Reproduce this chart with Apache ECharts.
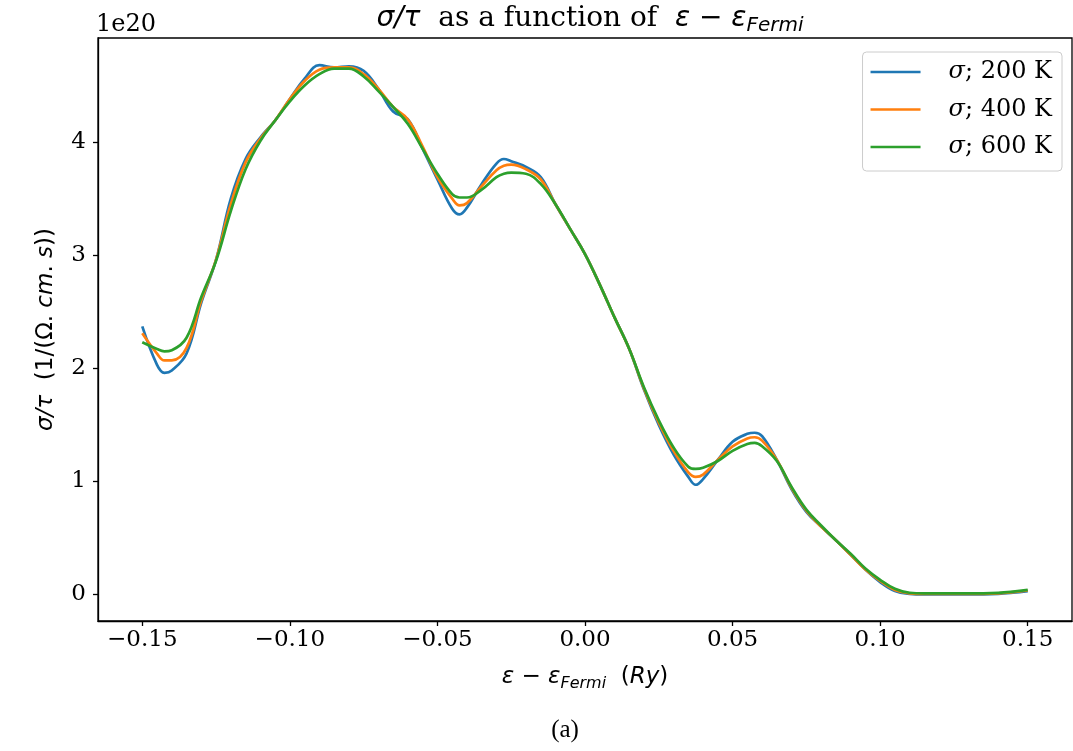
<!DOCTYPE html>
<html><head><meta charset="utf-8">
<script src="https://cdn.jsdelivr.net/npm/echarts@6/dist/echarts.min.js"></script>
<style>html,body{margin:0;padding:0;background:#fff}#c{width:1073px;height:751px}</style>
</head><body><div id="c"></div>
<script>
// energy relative to Fermi level (Ry)
const energy = [
  -0.15, -0.145, -0.1425, -0.14, -0.135, -0.13, -0.125, -0.12, -0.115, -0.11,
  -0.105, -0.10, -0.095, -0.09, -0.085, -0.08, -0.075, -0.07, -0.065, -0.06,
  -0.055, -0.05, -0.045, -0.0425, -0.04, -0.035, -0.03, -0.0275, -0.025, -0.02,
  -0.015, -0.01, -0.005, 0, 0.005, 0.01, 0.015, 0.02, 0.025, 0.03,
  0.035, 0.0375, 0.04, 0.045, 0.05, 0.055, 0.0575, 0.06, 0.065, 0.07,
  0.075, 0.08, 0.085, 0.09, 0.095, 0.10, 0.105, 0.11, 0.115, 0.12,
  0.13, 0.14, 0.145, 0.15
];
// sigma/tau in units of 1e20
const sigma200 = [
  2.37, 2.03, 1.96, 1.98, 2.13, 2.58, 2.96, 3.50, 3.85, 4.04,
  4.19, 4.38, 4.56, 4.68, 4.66, 4.67, 4.63, 4.47, 4.27, 4.20,
  3.94, 3.67, 3.41, 3.36, 3.42, 3.63, 3.81, 3.85, 3.83, 3.78,
  3.69, 3.45, 3.23, 3.01, 2.74, 2.45, 2.17, 1.81, 1.50, 1.24,
  1.04, 0.97, 1.02, 1.19, 1.35, 1.42, 1.43, 1.40, 1.19, 0.93,
  0.73, 0.60, 0.48, 0.35, 0.22, 0.11, 0.03, 0.005, 0, 0,
  0, 0.005, 0.015, 0.03
];
const sigma400 = [
  2.31, 2.13, 2.07, 2.07, 2.18, 2.60, 2.96, 3.45, 3.82, 4.03,
  4.19, 4.38, 4.54, 4.64, 4.66, 4.66, 4.60, 4.47, 4.31, 4.20,
  3.96, 3.69, 3.50, 3.44, 3.46, 3.61, 3.75, 3.79, 3.80, 3.76,
  3.67, 3.45, 3.23, 3.01, 2.74, 2.45, 2.17, 1.82, 1.52, 1.27,
  1.08, 1.04, 1.06, 1.19, 1.31, 1.38, 1.39, 1.36, 1.19, 0.94,
  0.74, 0.60, 0.48, 0.35, 0.22, 0.12, 0.04, 0.01, 0.005, 0.005,
  0.005, 0.01, 0.02, 0.035
];
const sigma600 = [
  2.23, 2.17, 2.15, 2.16, 2.27, 2.63, 2.95, 3.39, 3.76, 4.01,
  4.19, 4.36, 4.50, 4.60, 4.65, 4.65, 4.58, 4.45, 4.31, 4.16,
  3.94, 3.72, 3.54, 3.51, 3.51, 3.58, 3.69, 3.72, 3.73, 3.72,
  3.63, 3.45, 3.23, 3.01, 2.74, 2.45, 2.17, 1.83, 1.54, 1.30,
  1.13, 1.11, 1.12, 1.18, 1.27, 1.33, 1.34, 1.31, 1.18, 0.95,
  0.75, 0.61, 0.48, 0.36, 0.23, 0.13, 0.05, 0.015, 0.01, 0.01,
  0.01, 0.015, 0.025, 0.04
];
const temperatures = [200, 400, 600];
const xTicks = [-0.15, -0.10, -0.05, 0, 0.05, 0.10, 0.15];
const yTicks = [0, 1, 2, 3, 4];
const colors = ['#1f77b4', '#ff7f0e', '#2ca02c'];
const seriesValues = [sigma200, sigma400, sigma600];
const names = temperatures.map(t => 'σ; ' + t + ' K');

const SANS = 'DejaVu Sans';
const SERIF = 'DejaVu Serif';
const fmtX = v => (v < 0 ? '\u2212' : '') + Math.abs(v).toFixed(2);

function mathRich(size, textFont) {
  const lh = size + 6;
  const sub = Math.round(size * 0.7);
  return {
    i: {fontFamily: SANS, fontStyle: 'italic', fontSize: size, color: '#000', lineHeight: lh, verticalAlign: 'middle'},
    n: {fontFamily: SANS, fontSize: size, color: '#000', lineHeight: lh, verticalAlign: 'middle'},
    t: {fontFamily: textFont || SERIF, fontSize: size, color: '#000', lineHeight: lh, verticalAlign: 'middle'},
    s: {fontFamily: SANS, fontStyle: 'italic', fontSize: sub, color: '#000', lineHeight: sub + 2, verticalAlign: 'bottom'}
  };
}

const chart = echarts.init(document.getElementById('c'));
chart.setOption({
  animation: false,
  backgroundColor: '#fff',
  grid: {left: 98, right: 1, top: 38, bottom: 130, show: true, borderColor: '#000', borderWidth: 1.3, containLabel: false},
  xAxis: {
    type: 'value', min: -0.165, max: 0.165,
    axisLine: {show: true, onZero: false, lineStyle: {color: '#000', width: 1.3}},
    axisTick: {show: true, customValues: xTicks, length: 5, lineStyle: {color: '#000', width: 1.3}},
    axisLabel: {customValues: xTicks, formatter: fmtX, fontFamily: SERIF, fontSize: 23, color: '#000', margin: 8},
    splitLine: {show: false},
    name: '{i|ε}{n| − }{i|ε}{s|Fermi}{n|  (}{i|Ry}{n|)}',
    nameLocation: 'middle', nameGap: 42,
    nameTextStyle: {rich: mathRich(23)}
  },
  yAxis: {
    type: 'value', min: -0.2345, max: 4.92,
    axisLine: {show: true, onZero: false, lineStyle: {color: '#000', width: 1.3}},
    axisTick: {show: true, customValues: yTicks, length: 5, lineStyle: {color: '#000', width: 1.3}},
    axisLabel: {customValues: yTicks, formatter: v => String(Math.round(v)), fontFamily: SERIF, fontSize: 23, color: '#000', margin: 12},
    splitLine: {show: false},
    name: '{i|σ/τ}{n|  (1/(Ω. }{i|cm}{n|. }{i|s}{n|))}',
    nameLocation: 'middle', nameGap: 37, nameRotate: 90,
    nameTextStyle: {rich: mathRich(23)}
  },
  legend: {
    orient: 'vertical', right: 11, top: 52,
    data: names,
    icon: 'rect', itemWidth: 50, itemHeight: 2.5, itemGap: 13.5,
    padding: [8, 10, 12, 8],
    borderColor: '#cccccc', borderWidth: 1, borderRadius: 4,
    backgroundColor: 'rgba(255,255,255,0.8)',
    formatter: name => '{i|σ}{n|' + name.slice(1) + '}',
    textStyle: {
      padding: [0, 0, 0, 23],
      rich: {
        i: {fontFamily: SERIF, fontStyle: 'italic', fontSize: 24, color: '#000', lineHeight: 26},
        n: {fontFamily: SERIF, fontSize: 24, color: '#000', lineHeight: 26}
      }
    }
  },
  graphic: [
    {type: 'text', x: 96, y: 25, style: {text: '1e20', fontFamily: SERIF, fontSize: 24, fill: '#000', verticalAlign: 'middle'}},
    {type: 'text', x: 590, y: 19, style: {
      text: '{i|σ/τ}{t|  as a function of  }{i|ε}{n| − }{i|ε}{s|Fermi}',
      align: 'center', verticalAlign: 'middle', rich: mathRich(28)}},
    {type: 'text', x: 565, y: 730, style: {text: '(a)', fontFamily: 'Liberation Serif', fontSize: 25, fill: '#000', align: 'center', verticalAlign: 'middle'}}
  ],
  series: seriesValues.map((vals, k) => ({
    name: names[k], type: 'line', showSymbol: false, smooth: 0.4,
    color: colors[k],
    lineStyle: {width: 2.7, color: colors[k]},
    data: energy.map((x, i) => [x, vals[i]]),
    z: 2 + k
  }))
});
</script></body></html>
